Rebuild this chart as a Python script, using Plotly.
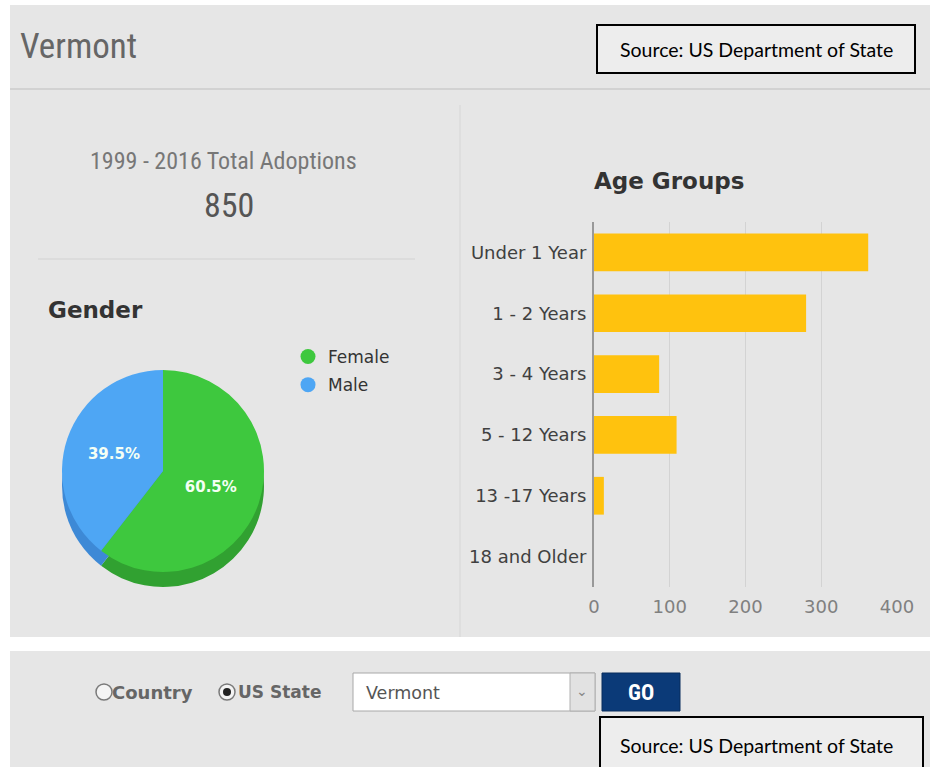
import plotly.graph_objects as go

# ---------------- data ----------------
state_name = "Vermont"
period_label = "1999 - 2016 Total Adoptions"
total_adoptions = 850

genders = ["Female", "Male"]
gender_share = [60.5, 39.5]
gender_colors = ["#3ec83e", "#4ea6f4"]
gender_side_colors = ["#31a131", "#3d89d6"]

age_groups = ["Under 1 Year", "1 - 2 Years", "3 - 4 Years", "5 - 12 Years", "13 -17 Years", "18 and Older"]
age_counts = [362, 280, 86, 109, 13, 0]
x_ticks = [0, 100, 200, 300, 400]

source_text = "Source: US Department of State"

# ---------------- helpers (pixel -> paper) ----------------
W, H = 930, 767
def px(x):
    return x / W
def py(y):
    return 1 - y / H

NARROW = "Liberation Sans Narrow, Roboto Condensed, Arial Narrow, sans-serif"
SANS = "DejaVu Sans, Verdana, sans-serif"
SRC = "Lato, Carlito, Calibri, sans-serif"
PANEL = "#e6e6e6"

fig = go.Figure()

# ---------------- pie (3D look: darker pie underneath) ----------------
cx, cy, d = 163, 471, 202
depth = 15
fig.add_trace(go.Pie(
    labels=genders, values=gender_share, sort=False, direction="clockwise", rotation=0,
    marker=dict(colors=gender_side_colors, line=dict(width=0)),
    textinfo="none", hoverinfo="skip", showlegend=False,
    domain=dict(x=[px(cx - d / 2), px(cx + d / 2)],
                y=[py(cy + d / 2 + depth), py(cy - d / 2 + depth)]),
))
fig.add_trace(go.Pie(
    labels=genders, values=gender_share, sort=False, direction="clockwise", rotation=0,
    marker=dict(colors=gender_colors, line=dict(width=0)),
    texttemplate="<b>%{percent:.1%}</b>", textposition="inside", insidetextorientation="horizontal",
    textfont=dict(family=SANS, size=15, color="#f4fff4"),
    showlegend=False,
    domain=dict(x=[px(cx - d / 2), px(cx + d / 2)],
                y=[py(cy + d / 2), py(cy - d / 2)]),
))

# legend entries (circle markers) for the gender pie
for g, c in zip(genders, gender_colors):
    fig.add_trace(go.Scatter(
        x=[None], y=[None], mode="markers", name=g, legendgroup=g,
        marker=dict(size=15, color=c), xaxis="x", yaxis="y", hoverinfo="skip",
    ))

# ---------------- bar chart ----------------
fig.add_trace(go.Bar(
    x=age_counts, y=age_groups, orientation="h", width=0.62,
    marker=dict(color="#ffc20e", line=dict(width=0)),
    showlegend=False, hovertemplate="%{y}: %{x}<extra></extra>",
))

fig.update_layout(
    width=W, height=H, autosize=False,
    margin=dict(l=0, r=0, t=0, b=0, pad=0, autoexpand=False),
    paper_bgcolor="white", plot_bgcolor="rgba(0,0,0,0)",
    font=dict(family=SANS, color="#333"),
    xaxis=dict(domain=[px(594), px(897)], range=[0, 400], tickvals=x_ticks, automargin=False,
               showgrid=True, gridcolor="#d3d3d3", gridwidth=1, zeroline=False,
               showline=False, ticks="", ticklabelstandoff=7,
               tickfont=dict(family=SANS, size=18, color="#808080"), fixedrange=True),
    yaxis=dict(domain=[py(587), py(222)], range=[5.5, -0.5], type="category", automargin=False,
               showgrid=False, zeroline=False, showline=True, linecolor="#999999",
               linewidth=2, ticks="", ticklabelstandoff=2,
               tickfont=dict(family=SANS, size=18, color="#404040"), fixedrange=True),
    showlegend=True,
    legend=dict(x=px(288), y=py(339), xanchor="left", yanchor="top",
                bgcolor="rgba(0,0,0,0)", font=dict(family=SANS, size=17, color="#333"),
                traceorder="grouped", tracegroupgap=3, itemclick=False, itemdoubleclick=False),
)

# ---------------- decoration shapes ----------------
def rect(x0, x1, y0, y1, fill, lc=None, lw=0, kind="rect"):
    return dict(type=kind, xref="paper", yref="paper", x0=px(x0), x1=px(x1), y0=py(y1), y1=py(y0),
                fillcolor=fill, line=dict(color=lc or fill, width=lw), layer="below")

def line(x0, x1, y0, y1, color, w):
    return dict(type="line", xref="paper", yref="paper", x0=px(x0), x1=px(x1), y0=py(y0), y1=py(y1),
                line=dict(color=color, width=w), layer="below")

shapes = [
    rect(10, 930, 5, 637, PANEL),                     # main grey panel
    rect(10, 930, 651, 767, PANEL),                   # bottom grey panel
    line(10, 930, 89, 89, "#d2d2d2", 2),              # header separator
    line(460, 460, 105, 637, "#d6d6d6", 1),           # vertical divider
    line(38, 415, 259, 259, "#d2d2d2", 1),            # separator under total
    rect(597, 915, 25, 73, "#ededed", "black", 2),    # source box top
    rect(600, 923, 717, 772, "#ededed", "black", 2),  # source box bottom
    rect(353, 595, 673, 711, "white", "#a8a8a8", 1),  # dropdown
    rect(570, 595, 673, 711, "#e2e2e2", "#b0b0b0", 1),
    rect(602, 680, 673, 711, "#0b3a78", "#082c5c", 1),  # GO button
    # radio buttons
    rect(96, 112, 684, 700, "#f4f4f4", "#7a7a7a", 1.5, "circle"),
    rect(219, 235, 684, 700, "#f4f4f4", "#7a7a7a", 1.5, "circle"),
    rect(223, 231, 688, 696, "#222222", "#222222", 0, "circle"),
]
fig.update_layout(shapes=shapes)

# ---------------- texts ----------------
def txt(x, y, text, size, color="#333", family=SANS, xanchor="left"):
    fig.add_annotation(x=px(x), y=py(y), xref="paper", yref="paper", text=text, showarrow=False,
                       xanchor=xanchor, yanchor="middle", borderpad=0,
                       font=dict(family=family, size=size, color=color))

txt(19, 47, state_name, 35, "#666666", NARROW)
txt(756, 49, source_text, 19.5, "black", SRC, "center")
txt(223, 161, period_label, 24, "#777777", NARROW, "center")
txt(229, 205, str(total_adoptions), 34, "#555555", NARROW, "center")
txt(47, 310, "<b>Gender</b>", 23, "#333333")
txt(669, 181, "<b>Age Groups</b>", 23, "#333333", SANS, "center")
txt(111, 692, "<b>Country</b>", 18, "#666666")
txt(237, 692, "<b>US State</b>", 17, "#666666")
txt(365, 693, state_name, 17.5, "#555555")
txt(582, 691, "⌄", 14, "#888888", SANS, "center")
txt(641, 692, "<b>GO</b>", 22, "white", NARROW, "center")
txt(756, 745, source_text, 19.5, "black", SRC, "center")

fig.write_html("out.html")
